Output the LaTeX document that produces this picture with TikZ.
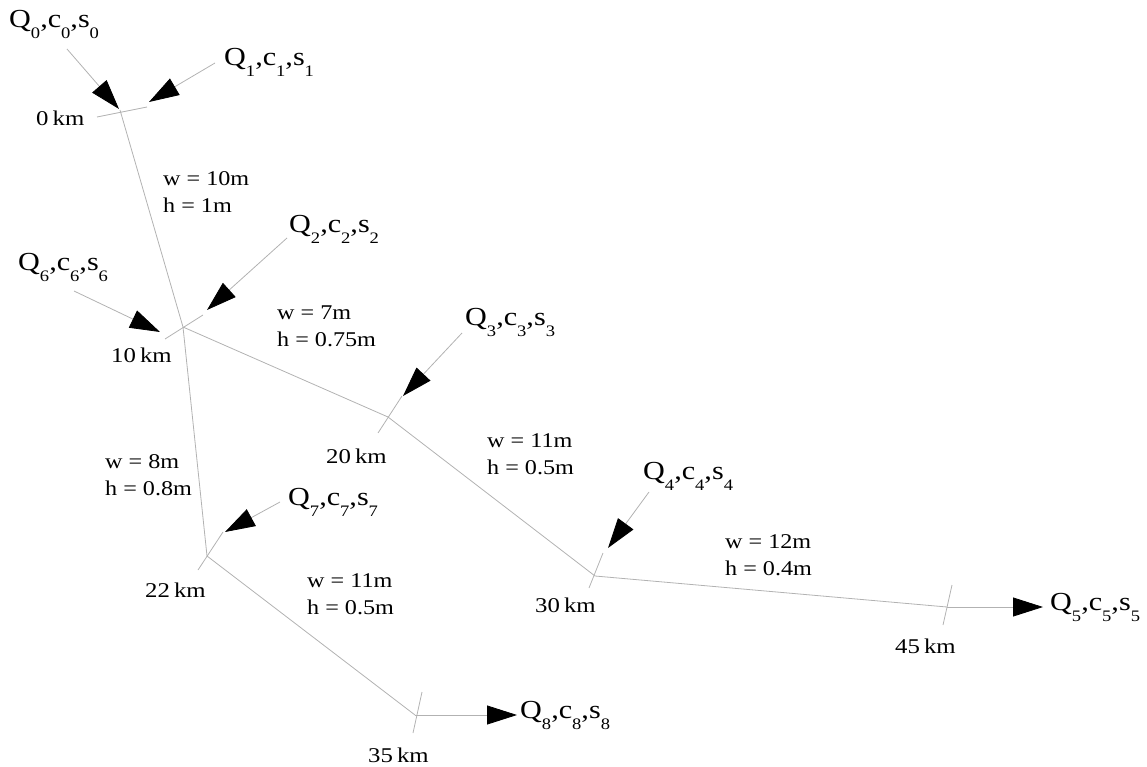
\documentclass[tikz,border=0pt]{standalone}
\usepackage{fontspec}
\setmainfont{Liberation Serif}
\usetikzlibrary{arrows.meta}
% subscript digit set lower and smaller, as in the flow labels
\newcommand\qsub[1]{\raisebox{-11pt}{\fontsize{16}{16}\selectfont #1}}
\newcommand\qlabel[1]{\scalebox{1.16}[1]{Q\qsub{#1},c\qsub{#1},s\qsub{#1}}}
\newcommand\kmlabel[1]{\scalebox{1.18}[1]{#1\,km}}
\newcommand\whlabel[2]{\scalebox{1.15}[1]{\begin{tabular}[t]{@{}l@{}}#1\\#2\end{tabular}}}
\begin{document}
\begin{tikzpicture}[x=1pt,y=-1pt,
  river/.style={draw=gray!60,line width=0.8pt},
  inflow/.style={river,-{Triangle[length=30pt,width=19pt,color=black]}},
  txt/.style={inner sep=0pt,anchor=base west,font=\fontsize{21}{27}\selectfont},
  qtxt/.style={inner sep=0pt,anchor=base west,font=\fontsize{26}{30}\selectfont}]
\useasboundingbox (0,0) rectangle (1147,767);

% junctions of the network
\coordinate (J0)  at (120,110);
\coordinate (J10) at (183,327);
\coordinate (J20) at (388,417);
\coordinate (J30) at (595,576);
\coordinate (J45) at (947,607);
\coordinate (J22) at (207,556);
\coordinate (J35) at (415,715);

% cross ticks at the junctions
\coordinate (T0a)  at (97,117);  \coordinate (T0b)  at (147,107);
\coordinate (T10a) at (165,339); \coordinate (T10b) at (203,315);
\coordinate (T20a) at (378,433); \coordinate (T20b) at (402,396);
\coordinate (T30a) at (589,588); \coordinate (T30b) at (603,553);
\coordinate (T45a) at (943,625); \coordinate (T45b) at (952,585);
\coordinate (T22a) at (198,570); \coordinate (T22b) at (223,532);
\coordinate (T35a) at (413,733); \coordinate (T35b) at (422,692);

% river reaches
\draw[river] (J0) -- (J10) -- (J20) -- (J30) -- (J45);
\draw[river] (J10) -- (J22) -- (J35);
\foreach \t in {0,10,20,30,45,22,35} \draw[river] (T\t a) -- (T\t b);

% inflow start points and arrow tips
\coordinate (S0) at (67,49);   \coordinate (E0) at (119,109);
\coordinate (S1) at (215,63);  \coordinate (E1) at (149,102);
\coordinate (S2) at (287,238); \coordinate (E2) at (207,310);
\coordinate (S6) at (74,291);  \coordinate (E6) at (160,332);
\coordinate (S3) at (462,333); \coordinate (E3) at (403,396);
\coordinate (S4) at (649,492); \coordinate (E4) at (608,548);
\coordinate (S7) at (280,502); \coordinate (E7) at (225,532);
\coordinate (E5) at (1043,607);
\coordinate (E8) at (517,715);

\foreach \i in {0,1,2,6,3,4,7} \draw[inflow] (S\i) -- (E\i);
\draw[inflow] (J45) -- (E5);
\draw[inflow] (J35) -- (E8);

% flow labels
\node[qtxt] (q0) at (9,28)     {\qlabel{0}};
\node[qtxt] (q1) at (224,66)   {\qlabel{1}};
\node[qtxt] (q2) at (289,233)  {\qlabel{2}};
\node[qtxt] (q6) at (18,270)   {\qlabel{6}};
\node[qtxt] (q3) at (465,325)  {\qlabel{3}};
\node[qtxt] (q4) at (643,479)  {\qlabel{4}};
\node[qtxt] (q7) at (288,505)  {\qlabel{7}};
\node[qtxt] (q5) at (1050,610) {\qlabel{5}};
\node[qtxt] (q8) at (520,718)  {\qlabel{8}};

% chainage labels
\node[txt] (k0)  at (36,126)  {\kmlabel{0}};
\node[txt] (k10) at (111,362) {\kmlabel{10}};
\node[txt] (k20) at (326,463) {\kmlabel{20}};
\node[txt] (k22) at (145,597) {\kmlabel{22}};
\node[txt] (k30) at (535,612) {\kmlabel{30}};
\node[txt] (k45) at (895,653) {\kmlabel{45}};
\node[txt] (k35) at (368,762) {\kmlabel{35}};

% reach geometry labels
\node[txt] (r1) at (163,186) {\whlabel{w = 10m}{h = 1m}};
\node[txt] (r2) at (277,319) {\whlabel{w = 7m}{h = 0.75m}};
\node[txt] (r3) at (487,447) {\whlabel{w = 11m}{h = 0.5m}};
\node[txt] (r4) at (105,468) {\whlabel{w = 8m}{h = 0.8m}};
\node[txt] (r5) at (307,587) {\whlabel{w = 11m}{h = 0.5m}};
\node[txt] (r6) at (725,548) {\whlabel{w = 12m}{h = 0.4m}};
\end{tikzpicture}
\end{document}
